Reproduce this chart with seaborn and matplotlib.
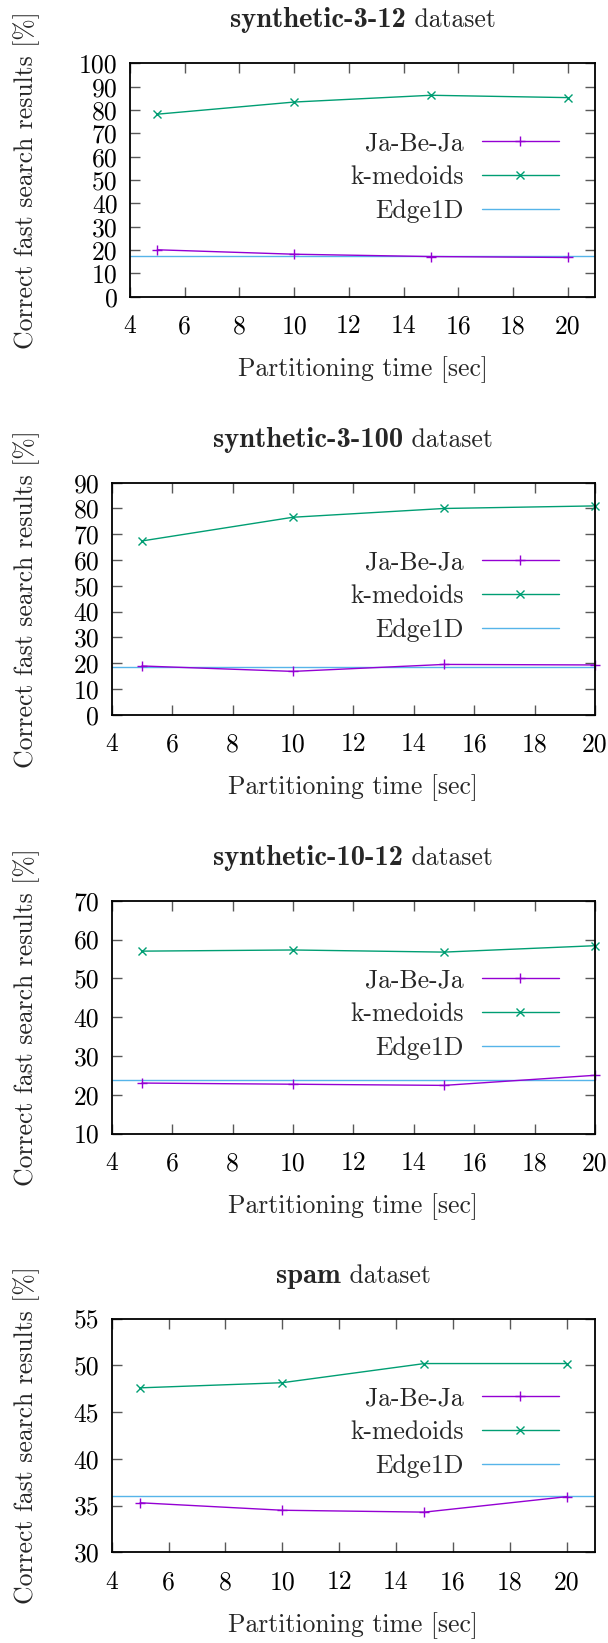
import matplotlib
matplotlib.use("Agg")
import matplotlib.pyplot as plt
from matplotlib.lines import Line2D
from matplotlib.ticker import MultipleLocator
import seaborn as sns

# ---- data -------------------------------------------------------------
times = [5, 10, 15, 20]
dataset_names = ["synthetic-3-12", "synthetic-3-100", "synthetic-10-12", "spam"]
method_names = ["Ja-Be-Ja", "k-medoids", "Edge1D"]

jabeja = {
    "synthetic-3-12": [20.1, 18.2, 17.2, 16.8],
    "synthetic-3-100": [18.9, 16.8, 19.5, 19.3],
    "synthetic-10-12": [23.0, 22.7, 22.4, 25.0],
    "spam": [35.3, 34.5, 34.3, 35.95],
}
kmedoids = {
    "synthetic-3-12": [78.2, 83.4, 86.3, 85.3],
    "synthetic-3-100": [67.4, 76.6, 80.0, 81.0],
    "synthetic-10-12": [57.0, 57.3, 56.75, 58.4],
    "spam": [47.6, 48.15, 50.2, 50.2],
}
edge1d = {
    "synthetic-3-12": 17.6,
    "synthetic-3-100": 18.4,
    "synthetic-10-12": 23.7,
    "spam": 36.0,
}

y_ranges = {
    "synthetic-3-12": (0, 100, 10),
    "synthetic-3-100": (0, 90, 10),
    "synthetic-10-12": (10, 70, 10),
    "spam": (30, 55, 5),
}
x_ranges = {
    "synthetic-3-12": (4, 21),
    "synthetic-3-100": (4, 20),
    "synthetic-10-12": (4, 20),
    "spam": (4, 21),
}

# ---- style ------------------------------------------------------------
sns.set_theme(style="ticks")
plt.rcParams["font.family"] = ["cmr10", "DejaVu Serif"]
plt.rcParams["mathtext.fontset"] = "cm"
plt.rcParams["axes.unicode_minus"] = False
plt.rcParams["axes.formatter.use_mathtext"] = False

FS = 18.5
colors = {"Ja-Be-Ja": "#9400D3", "k-medoids": "#009E73", "Edge1D": "#56B4E9"}
markers = {"Ja-Be-Ja": "+", "k-medoids": "x"}
msize = {"Ja-Be-Ja": 6.5, "k-medoids": 6.0}

W, H = 608, 1643
fig = plt.figure(figsize=(W / 100, H / 100), dpi=100)
fig.patch.set_facecolor("white")

# panel frames in pixels: left, top, right, bottom
frames = [
    (130, 63.3, 595, 296.7),
    (111.7, 482.7, 595, 714.7),
    (111.7, 900.7, 595, 1133.5),
    (111.7, 1318.7, 595, 1552.3),
]

renderer = fig.canvas.get_renderer()

for name, (l, t, r, b) in zip(dataset_names, frames):
    ax = fig.add_axes([l / W, 1 - b / H, (r - l) / W, (b - t) / H])
    ax.set_facecolor("white")

    for method, series in (("Ja-Be-Ja", jabeja), ("k-medoids", kmedoids)):
        c = colors[method]
        sns.lineplot(x=times, y=series[name], ax=ax, color=c, linewidth=1.0,
                     marker=markers[method], markersize=msize[method],
                     markeredgewidth=1.0, markeredgecolor=c, clip_on=False,
                     zorder=3)
    ax.axhline(edge1d[name], color=colors["Edge1D"], linewidth=1.0, zorder=2)

    y0, y1, ys = y_ranges[name]
    ax.set_ylim(y0, y1)
    ax.yaxis.set_major_locator(MultipleLocator(ys))
    ax.set_xlim(*x_ranges[name])
    ax.xaxis.set_major_locator(MultipleLocator(2))

    ax.tick_params(direction="in", length=7, width=1.0, color="0.35",
                   labelsize=FS, labelcolor="black", top=True, right=True,
                   pad=9)
    ax.tick_params(axis="x", pad=13)
    for sp in ax.spines.values():
        sp.set_visible(True)
        sp.set_color("black")
        sp.set_linewidth(1.3)
        sp.set_zorder(4)

    ax.set_xlabel("Partitioning time [sec]", fontsize=FS)
    ax.xaxis.set_label_coords(((l + r) / 2) / W, 1 - (b + 73) / H,
                              transform=fig.transFigure)
    ax.xaxis.label.set_verticalalignment("center")
    ax.set_ylabel("Correct fast search results [%]", fontsize=FS)
    ax.yaxis.set_label_coords(27 / W, 1 - ((t + b) / 2) / H,
                              transform=fig.transFigure)
    ax.yaxis.label.set_verticalalignment("center")

    # legend: label text right-aligned, sample line to its right
    handles = [
        Line2D([], [], color=colors["Ja-Be-Ja"], lw=1.0, marker="+",
               markersize=msize["Ja-Be-Ja"], markeredgewidth=1.0),
        Line2D([], [], color=colors["k-medoids"], lw=1.0, marker="x",
               markersize=msize["k-medoids"], markeredgewidth=1.0),
        Line2D([], [], color=colors["Edge1D"], lw=1.0),
    ]
    ax.legend(handles, method_names, loc="upper right", frameon=False,
              markerfirst=False, fontsize=FS, handlelength=3.0,
              handletextpad=0.7, labelspacing=0.4, borderpad=0,
              borderaxespad=0,
              bbox_to_anchor=(559 / W, 1 - (t + 68) / H),
              bbox_transform=fig.transFigure)

    # title: bold dataset name followed by regular "dataset"
    tb = fig.text(0, 0, name, fontsize=20.5, family="cmb10", va="baseline")
    tr = fig.text(0, 0, " dataset", fontsize=FS, va="baseline")
    wb = tb.get_window_extent(renderer).width
    wr = tr.get_window_extent(renderer).width
    cx = (l + r) / 2
    ty = 1 - (t - 36) / H
    x_start = cx - (wb + wr) / 2
    tb.set_position((x_start / W, ty))
    tr.set_position(((x_start + wb) / W, ty))

fig.savefig("out.png", dpi=100, facecolor="white")
